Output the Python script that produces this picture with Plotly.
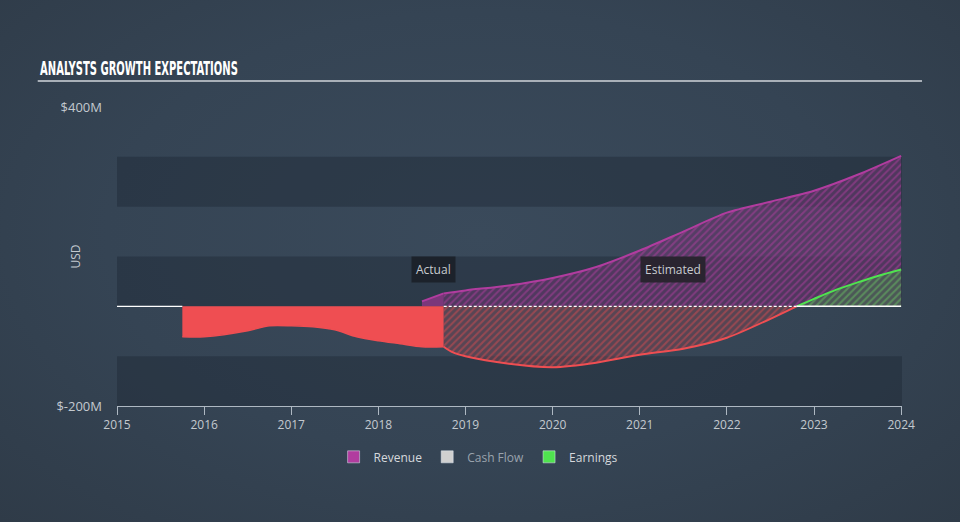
import plotly.graph_objects as go

# ---- data (USD millions) ----
earn_act_x = [2015.75, 2016.0, 2016.5, 2016.75, 2017.0, 2017.25, 2017.5, 2017.75, 2018.0, 2018.25, 2018.5, 2018.75]
earn_act_y = [-61, -61, -49, -39, -39, -41, -47, -61, -69, -75, -81, -81]

earn_neg_x = [2018.75, 2018.85, 2019.0, 2019.5, 2020.0, 2020.5, 2021.0, 2021.5, 2022.0, 2022.5, 2022.8]
earn_neg_y = [-81, -92, -100, -115, -122, -113, -97, -85, -63, -25, 0]

earn_pos_x = [2022.8, 2023.0, 2023.25, 2023.5, 2023.75, 2024.0]
earn_pos_y = [0, 15, 33, 48, 62, 74]

rev_act_x = [2018.5, 2018.75]
rev_act_y = [10, 26]

rev_est_x = [2018.75, 2019.0, 2019.5, 2020.0, 2020.5, 2021.0, 2021.5, 2022.0, 2022.5, 2023.0, 2023.5, 2024.0]
rev_est_y = [26, 32, 42, 57, 79, 112, 150, 188, 210, 232, 264, 302]

x_ticks = [2015, 2016, 2017, 2018, 2019, 2020, 2021, 2022, 2023, 2024]
y_ticks = [400, -200]
y_tick_labels = ["$400M", "$-200M"]
bands = [(200, 300), (0, 100), (-200, -100)]

BAND = "rgba(28,38,50,0.4)"
RED = "#ef4e52"
PURPLE = "#b13c9f"
GREEN = "#4fe34f"
TXT = "#c3c9cf"

fig = go.Figure()

# revenue actual (solid)
fig.add_trace(go.Scatter(x=rev_act_x, y=rev_act_y, fill="tozeroy", mode="lines",
                         line=dict(color=PURPLE, width=2), fillcolor="rgba(150,55,140,0.75)",
                         showlegend=False, hoverinfo="skip"))
# revenue estimated (hatched)
fig.add_trace(go.Scatter(x=rev_est_x, y=rev_est_y, fill="tozeroy", mode="lines",
                         line=dict(color=PURPLE, width=2, shape="spline", smoothing=0.8),
                         fillpattern=dict(shape="/", fgcolor="rgba(185,62,165,0.9)",
                                          bgcolor="rgba(105,55,110,0.6)", size=5, solidity=0.4),
                         showlegend=False, hoverinfo="skip"))
# earnings actual (solid red)
fig.add_trace(go.Scatter(x=earn_act_x, y=earn_act_y, fill="tozeroy", mode="lines",
                         line=dict(color=RED, width=1.5, shape="spline", smoothing=0.8),
                         fillcolor=RED, showlegend=False, hoverinfo="skip"))
# earnings estimated negative (hatched red)
fig.add_trace(go.Scatter(x=earn_neg_x, y=earn_neg_y, fill="tozeroy", mode="lines",
                         line=dict(color=RED, width=2, shape="spline", smoothing=0.8),
                         fillpattern=dict(shape="/", fgcolor="rgba(235,76,80,0.85)",
                                          bgcolor="rgba(115,68,80,0.55)", size=5, solidity=0.4),
                         showlegend=False, hoverinfo="skip"))
# earnings estimated positive (hatched green)
fig.add_trace(go.Scatter(x=earn_pos_x, y=earn_pos_y, fill="tozeroy", mode="lines",
                         line=dict(color=GREEN, width=2, shape="spline", smoothing=0.8),
                         fillpattern=dict(shape="/", fgcolor="rgba(79,210,79,0.85)",
                                          bgcolor="rgba(70,115,80,0.55)", size=5, solidity=0.4),
                         showlegend=False, hoverinfo="skip"))

# legend entries
fig.add_trace(go.Bar(x=[None], y=[None], name="Revenue", marker_color=PURPLE))
fig.add_trace(go.Bar(x=[None], y=[None], name="<span style='color:#9aa3ad'>Cash Flow</span>",
                     marker_color="#d0d0d0"))
fig.add_trace(go.Bar(x=[None], y=[None], name="Earnings", marker_color=GREEN))

shapes = []
for lo, hi in bands:
    shapes.append(dict(type="rect", xref="x", yref="y", x0=2015, x1=2024.01, y0=lo, y1=hi,
                       fillcolor=BAND, line_width=0, layer="below"))
# zero line
shapes.append(dict(type="line", xref="x", yref="y", x0=2015, x1=earn_act_x[0], y0=0, y1=0,
                   line=dict(color="white", width=1.2)))
shapes.append(dict(type="line", xref="x", yref="y", x0=earn_neg_x[0], x1=earn_neg_x[-1], y0=0, y1=0,
                   line=dict(color="white", width=1.2, dash="3px,2px")))
shapes.append(dict(type="line", xref="x", yref="y", x0=earn_pos_x[0], x1=2024, y0=0, y1=0,
                   line=dict(color="white", width=1.5)))
# title underline
shapes.append(dict(type="line", xref="paper", yref="paper", x0=-0.101, x1=1.0255, y0=1.087, y1=1.087,
                   line=dict(color="#a9b0b8", width=2)))

annotations = [
    dict(text="<b>ANALYSTS GROWTH EXPECTATIONS</b>", xref="paper", yref="paper", x=-0.101, y=1.132,
         xanchor="left", yanchor="middle", showarrow=False,
         font=dict(family="DejaVu Sans Condensed", size=19, color="white")),
    dict(text="USD", xref="paper", yref="y", x=-0.0535, y=100, textangle=-90, showarrow=False,
         xanchor="center", yanchor="middle",
         font=dict(family="Open Sans", size=12, color=TXT)),
    dict(text="Actual", xref="x", yref="y", x=2018.63, y=73, showarrow=False,
         bgcolor="#1c222b", borderpad=4, font=dict(family="Open Sans", size=12, color="#c8ccd0")),
    dict(text="Estimated", xref="x", yref="y", x=2021.38, y=73, showarrow=False,
         bgcolor="#2a2430", borderpad=4, font=dict(family="Open Sans", size=12, color="#c8ccd0")),
]

fig.update_layout(
    width=960, height=522,
    paper_bgcolor="rgba(0,0,0,0)", plot_bgcolor="rgba(0,0,0,0)",
    margin=dict(l=117, r=58, t=107, b=116),
    shapes=shapes, annotations=annotations,
    font=dict(family="Open Sans", color=TXT, size=12),
    legend=dict(orientation="h", x=0.46, xanchor="center", y=-0.17, yanchor="middle",
                font=dict(size=12, color="#d5d9dd"), itemwidth=30, traceorder="normal"),
    xaxis=dict(range=[2015, 2024.01], tickvals=x_ticks, ticktext=[str(t) for t in x_ticks],
               showgrid=False, zeroline=False, showline=True, linecolor="#aeb8c2", linewidth=1,
               ticks="outside", ticklen=8, tickcolor="#aeb8c2",
               tickfont=dict(size=12, color=TXT)),
    yaxis=dict(range=[-200, 400], tickvals=y_ticks, ticktext=y_tick_labels, showgrid=False,
               zeroline=False, showline=False, ticks="", ticklabelstandoff=14,
               tickfont=dict(size=13, color=TXT)),
    hovermode=False,
)

post = """
document.body.style.margin='0';
document.documentElement.style.background='radial-gradient(ellipse at 50% 45%, #3a4a5b 0%, #354454 55%, #2f3b48 100%)';
document.documentElement.style.minHeight='100%';
document.body.style.background='transparent';
document.querySelectorAll('text.annotation-text').forEach(function(el){
  if (el.textContent.indexOf('ANALYSTS') === 0) {
    var bb = el.getBBox();
    var s = 198 / bb.width;
    el.setAttribute('transform', 'translate(' + bb.x + ',0) scale(' + s + ',1) translate(' + (-bb.x) + ',0)');
  }
});
"""

fig.write_html("out.html", config={"displayModeBar": False}, post_script=post)
